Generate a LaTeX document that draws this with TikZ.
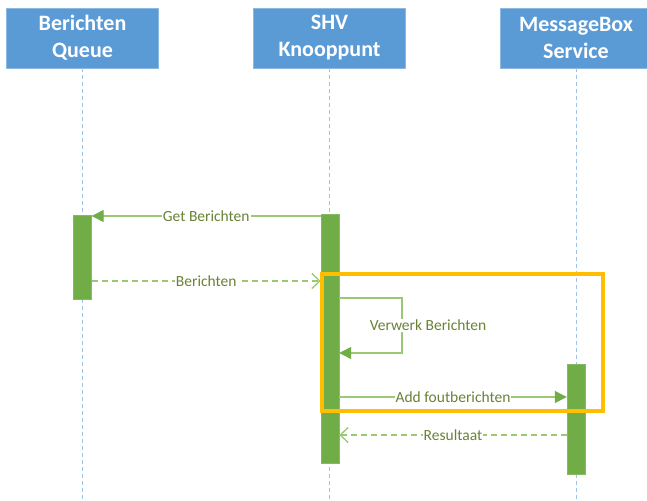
\documentclass[tikz,border=0pt]{standalone}
\usepackage{fontspec}
\setmainfont{Carlito}
\usepackage{xcolor}
\usetikzlibrary{arrows.meta}
\usetikzlibrary{calc}

\definecolor{headblue}{RGB}{91,155,213}
\definecolor{lifeblue}{RGB}{157,195,230}
\definecolor{bargreen}{RGB}{112,173,71}
\definecolor{msggreen}{RGB}{155,200,115}
\definecolor{labelgreen}{RGB}{105,130,55}
\definecolor{framegold}{RGB}{255,190,0}

\begin{document}
\begin{tikzpicture}[x=1pt,y=-1pt,
		head/.style={fill=headblue,draw=headblue!70!white,text=white,align=center,inner sep=0,
			minimum width=152,minimum height=60,font=\bfseries\fontsize{22}{27}\selectfont},
		life/.style={draw=lifeblue,line width=1,dash pattern=on 4pt off 3pt},
		bar/.style={fill=bargreen,draw=bargreen!85!white,minimum width=18,inner sep=0},
		sync/.style={draw=msggreen,line width=1.3,-{Triangle[length=12,width=12,color=bargreen]}},
		reply/.style={draw=msggreen,line width=1.3,dash pattern=on 6pt off 4pt,-{Straight Barb[length=8,width=15]}},
		lbl/.style={fill=white,text=labelgreen,inner sep=1,font=\fontsize{15.5}{18}\selectfont},
		frame/.style={draw=framegold,line width=3.5}]
		\useasboundingbox (0,0) rectangle (647,500);

		\node(queue)	[head]	at (82.5,38)	{Berichten\\Queue};
		\node(shv)		[head]	at (329.5,38)	{SHV\\Knooppunt};
		\node(mbox)		[head]	at (576,38)		{MessageBox\\Service};

		\draw[life](queue.south)	-- (queue.south |- 0,500);
		\draw[life](shv.south)		-- (shv.south |- 0,500);
		\draw[life](mbox.south)		-- (mbox.south |- 0,500);

		\node(bar1)	[bar,minimum height=84]		at (82.5,257)	{};
		\node(bar2)	[bar,minimum height=249]	at (330,338.5)	{};
		\node(bar3)	[bar,minimum height=110]	at (576,419)	{};

		\draw[sync](bar2.west |- 0,216)	-- node[lbl]{Get Berichten} (bar1.east |- 0,216);
		\draw[reply](bar1.east |- 0,281)	-- node[lbl]{Berichten} (bar2.west |- 0,281);
		\draw[sync](bar2.east |- 0,298)	-- (402,298) -- node[lbl,xshift=26]{Verwerk Berichten} (402,353) -- (bar2.east |- 0,353);
		\draw[sync](bar2.east |- 0,397)	-- node[lbl]{Add foutberichten} (bar3.west |- 0,397);
		\draw[reply](bar3.west |- 0,435)	-- node[lbl]{Resultaat} (bar2.east |- 0,435);

		\draw[frame](322,274) rectangle (603,411);
	\end{tikzpicture}
\end{document}
